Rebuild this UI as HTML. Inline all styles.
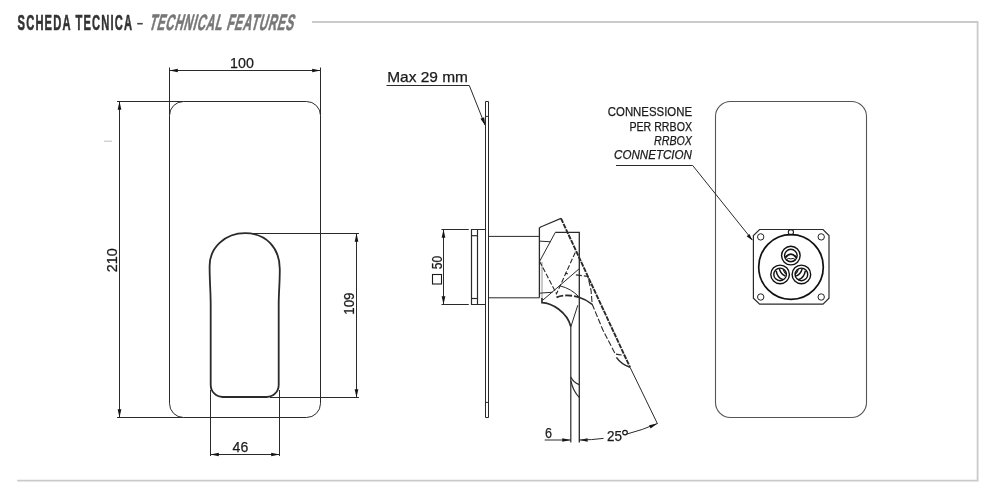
<!DOCTYPE html>
<html><head><meta charset="utf-8"><style>
html,body{margin:0;padding:0;background:#fff;}
body{width:1000px;height:502px;overflow:hidden;font-family:"Liberation Sans",sans-serif;}
svg{display:block;will-change:transform;}
</style></head><body>
<svg width="1000" height="502" viewBox="0 0 1000 502">
<text transform="translate(17.6 29.6) scale(0.49 1)" font-family="Liberation Sans" font-size="22.8" font-weight="bold" fill="#333" stroke="#333" stroke-width="0.6" textLength="233.5" lengthAdjust="spacing">SCHEDA TECNICA</text>
<rect x="137.2" y="22.9" width="5.5" height="1.6" fill="#444"/>
<text transform="translate(148.5 29.5) skewX(-15) scale(0.52 1)" font-family="Liberation Sans" font-size="22.3" font-weight="bold" fill="#777" stroke="#777" stroke-width="0.6" textLength="277.5" lengthAdjust="spacing">TECHNICAL FEATURES</text>
<path d="M312 22 H977.6 V480.6 H17.2" fill="none" stroke="#cacaca" stroke-width="1.8"/>
<path d="M183.5 101.5 H306.5 A14 14 0 0 1 320.5 115.5 V403.5 A14 14 0 0 1 306.5 417.5 H183.5 A14 14 0 0 1 169.5 403.5 V115.5 A14 14 0 0 1 183.5 101.5 Z" fill="none" stroke="#2a2a2a" stroke-width="1"/>
<line x1="117" y1="101.5" x2="183.5" y2="101.5" stroke="#2a2a2a" stroke-width="1"/>
<line x1="117" y1="417.5" x2="183.5" y2="417.5" stroke="#2a2a2a" stroke-width="1"/>
<line x1="169.5" y1="67.5" x2="169.5" y2="115.5" stroke="#2a2a2a" stroke-width="1"/>
<line x1="320.5" y1="67.5" x2="320.5" y2="115.5" stroke="#2a2a2a" stroke-width="1"/>
<line x1="169.5" y1="70.5" x2="320.5" y2="70.5" stroke="#2a2a2a" stroke-width="1"/>
<polygon points="169.50,70.50 177.80,68.65 177.80,72.35" fill="#151515"/>
<polygon points="320.50,70.50 312.20,72.35 312.20,68.65" fill="#151515"/>
<text x="242" y="68" font-family="Liberation Sans" font-size="14.4" fill="#1a1a1a" stroke="#1a1a1a" stroke-width="0.25" text-anchor="middle" font-weight="normal" font-style="normal" textLength="23.8" lengthAdjust="spacingAndGlyphs" >100</text>
<line x1="119.5" y1="101.5" x2="119.5" y2="417.5" stroke="#2a2a2a" stroke-width="1"/>
<polygon points="119.50,101.50 121.35,109.80 117.65,109.80" fill="#151515"/>
<polygon points="119.50,417.50 117.65,409.20 121.35,409.20" fill="#151515"/>
<text x="0" y="0" font-family="Liberation Sans" font-size="14.4" fill="#1a1a1a" stroke="#1a1a1a" stroke-width="0.25" text-anchor="middle" font-weight="normal" font-style="normal" textLength="24" lengthAdjust="spacingAndGlyphs" transform="translate(117.3 260.2) rotate(-90)">210</text>
<path d="M245 233.2 C265.9 233.2 279.8 247.6 279.8 269.2 C279.8 284 278.7 292 278.7 305 L278.7 385 A12 12 0 0 1 266.7 397 L222.7 397 A12 12 0 0 1 210.7 385 L210.7 305 C210.7 292 209.6 282 209.6 266 C209.6 247.5 225.2 233.2 245 233.2 Z" fill="none" stroke="#2a2a2a" stroke-width="1.8"/>
<line x1="240" y1="233.5" x2="359" y2="233.5" stroke="#2a2a2a" stroke-width="1"/>
<line x1="270" y1="397.5" x2="359" y2="397.5" stroke="#2a2a2a" stroke-width="1"/>
<line x1="356.5" y1="233.5" x2="356.5" y2="397.5" stroke="#2a2a2a" stroke-width="1"/>
<polygon points="356.50,233.50 358.35,241.80 354.65,241.80" fill="#151515"/>
<polygon points="356.50,397.50 354.65,389.20 358.35,389.20" fill="#151515"/>
<text x="0" y="0" font-family="Liberation Sans" font-size="14.4" fill="#1a1a1a" stroke="#1a1a1a" stroke-width="0.25" text-anchor="middle" font-weight="normal" font-style="normal" textLength="22.2" lengthAdjust="spacingAndGlyphs" transform="translate(353.9 303.6) rotate(-90)">109</text>
<line x1="210.5" y1="390" x2="210.5" y2="456" stroke="#2a2a2a" stroke-width="1"/>
<line x1="279.5" y1="390" x2="279.5" y2="456" stroke="#2a2a2a" stroke-width="1"/>
<line x1="210.5" y1="454.5" x2="279.5" y2="454.5" stroke="#2a2a2a" stroke-width="1"/>
<polygon points="210.50,454.50 218.80,452.65 218.80,456.35" fill="#151515"/>
<polygon points="279.50,454.50 271.20,456.35 271.20,452.65" fill="#151515"/>
<text x="240.4" y="452.3" font-family="Liberation Sans" font-size="14.4" fill="#1a1a1a" stroke="#1a1a1a" stroke-width="0.25" text-anchor="middle" font-weight="normal" font-style="normal" textLength="15.6" lengthAdjust="spacingAndGlyphs" >46</text>
<rect x="104" y="140.6" width="8" height="1.3" fill="#ccc"/>
<text x="387.2" y="81.9" font-family="Liberation Sans" font-size="14.8" fill="#1a1a1a" stroke="#1a1a1a" stroke-width="0.25" text-anchor="start" font-weight="normal" font-style="normal" textLength="80.8" lengthAdjust="spacingAndGlyphs" >Max 29 mm</text>
<path d="M386.5 85.5 H469.3 L485 125" fill="none" stroke="#2a2a2a" stroke-width="1"/>
<polygon points="485.30,125.40 480.47,118.72 484.18,117.23" fill="#151515"/>
<path d="M485.5 101.5 H488.5 V417.5 H485.5 Z" fill="none" stroke="#2a2a2a" stroke-width="1"/>
<line x1="485.5" y1="116.4" x2="488.5" y2="116.4" stroke="#2a2a2a" stroke-width="1"/>
<line x1="485.5" y1="402.4" x2="488.5" y2="402.4" stroke="#2a2a2a" stroke-width="1"/>
<path d="M485.5 229.5 H471.5 V304.5 H485.5" fill="none" stroke="#2a2a2a" stroke-width="1.2"/>
<line x1="477.5" y1="229.5" x2="477.5" y2="304.5" stroke="#2a2a2a" stroke-width="1.2"/>
<line x1="471.5" y1="235.7" x2="477.5" y2="235.7" stroke="#2a2a2a" stroke-width="1.2"/>
<line x1="471.5" y1="298.5" x2="477.5" y2="298.5" stroke="#2a2a2a" stroke-width="1.2"/>
<line x1="441.5" y1="229.5" x2="468.8" y2="229.5" stroke="#2a2a2a" stroke-width="1"/>
<line x1="441.5" y1="304.5" x2="468.8" y2="304.5" stroke="#2a2a2a" stroke-width="1"/>
<line x1="443.5" y1="229.5" x2="443.5" y2="304.5" stroke="#2a2a2a" stroke-width="1"/>
<polygon points="443.50,229.50 445.35,237.80 441.65,237.80" fill="#151515"/>
<polygon points="443.50,304.50 441.65,296.20 445.35,296.20" fill="#151515"/>
<text x="0" y="0" font-family="Liberation Sans" font-size="14.4" fill="#1a1a1a" stroke="#1a1a1a" stroke-width="0.25" text-anchor="start" font-weight="normal" font-style="normal" textLength="13.4" lengthAdjust="spacingAndGlyphs" transform="translate(442.4 269.3) rotate(-90)">50</text>
<rect x="432.5" y="274.5" width="9" height="9.5" fill="none" stroke="#1a1a1a" stroke-width="1.1"/>
<line x1="488.5" y1="236.4" x2="539.5" y2="236.4" stroke="#2a2a2a" stroke-width="1"/>
<line x1="488.5" y1="297.8" x2="539.5" y2="297.8" stroke="#2a2a2a" stroke-width="1"/>
<line x1="539.4" y1="227.5" x2="539.4" y2="297.7" stroke="#2a2a2a" stroke-width="1.3"/>
<line x1="542" y1="262" x2="542" y2="298" stroke="#888" stroke-width="0.9"/>
<path d="M539.4 227.8 Q541 226.6 543 226 L561 218.4" fill="none" stroke="#2a2a2a" stroke-width="1.2"/>
<path d="M555.3 232.4 H579.3 V442.5" fill="none" stroke="#2a2a2a" stroke-width="1.3"/>
<line x1="570.8" y1="326.7" x2="570.8" y2="442.5" stroke="#2a2a2a" stroke-width="1.2"/>
<path d="M542 298 V302.6 C552 303 567 312 570.9 326.7" fill="none" stroke="#2a2a2a" stroke-width="1.7"/>
<path d="M555.3 232.4 L539.6 261.4" fill="none" stroke="#2a2a2a" stroke-width="1"/>
<line x1="539.4" y1="241.1" x2="550.8" y2="241.8" stroke="#2a2a2a" stroke-width="1"/>
<line x1="539.4" y1="293.2" x2="552.5" y2="292.2" stroke="#2a2a2a" stroke-width="1"/>
<path d="M543 300 L578.9 269" fill="none" stroke="#2a2a2a" stroke-width="1"/>
<path d="M570.9 326.7 L577.8 305.2" fill="none" stroke="#2a2a2a" stroke-width="1"/>
<path d="M560 285.9 Q571 288.5 578.9 296.8" fill="none" stroke="#2a2a2a" stroke-width="1"/>
<path d="M570.8 377 Q573 382 579.2 384.6" fill="none" stroke="#2a2a2a" stroke-width="1.2"/>
<path d="M570.8 380.6 Q573 391 579.2 397.3" fill="none" stroke="#2a2a2a" stroke-width="1.2"/>
<path d="M561 218.4 L630 367.2" fill="none" stroke="#2a2a2a" stroke-width="1.9" stroke-dasharray="5 1"/>
<path d="M539.6 261.4 L556.5 293.8 L576 250.8" fill="none" stroke="#2a2a2a" stroke-width="1.1" stroke-dasharray="5 2"/>
<path d="M565 273.4 L568 273.7 M575.9 274.9 L587.8 276.4 L591 290 L592.2 304.3 L602.9 330 L615.3 354 Q619 354.6 624.6 355.6" fill="none" stroke="#2a2a2a" stroke-width="1.1" stroke-dasharray="6 2"/>
<path d="M616.4 357.3 Q621 364 630 367.2" fill="none" stroke="#2a2a2a" stroke-width="1.5"/>
<path d="M556.5 297.3 Q566 293.5 578.9 297.3" fill="none" stroke="#2a2a2a" stroke-width="1.9" stroke-dasharray="7 2"/>
<path d="M578.9 297.3 Q586 299.5 592.2 304.3" fill="none" stroke="#2a2a2a" stroke-width="1.6"/>
<line x1="630" y1="367.2" x2="657.4" y2="423.6" stroke="#2a2a2a" stroke-width="1"/>
<line x1="544.7" y1="440" x2="570.6" y2="440" stroke="#2a2a2a" stroke-width="1"/>
<polygon points="570.60,440.00 562.30,441.85 562.30,438.15" fill="#151515"/>
<polygon points="579.30,440.00 587.60,438.15 587.60,441.85" fill="#151515"/>
<path d="M579.3 440 A194 194 0 0 0 603.5 438.4" fill="none" stroke="#2a2a2a" stroke-width="1"/>
<text x="548.5" y="438.3" font-family="Liberation Sans" font-size="14.4" fill="#1a1a1a" stroke="#1a1a1a" stroke-width="0.25" text-anchor="middle" font-weight="normal" font-style="normal" textLength="7" lengthAdjust="spacingAndGlyphs" >6</text>
<text x="607" y="440.9" font-family="Liberation Sans" font-size="14.8" fill="#1a1a1a" stroke="#1a1a1a" stroke-width="0.25" text-anchor="start" font-weight="normal" font-style="normal" textLength="15.0" lengthAdjust="spacingAndGlyphs" >25</text>
<circle cx="625" cy="432.6" r="2.3" fill="none" stroke="#1a1a1a" stroke-width="1.15"/>
<path d="M626.6 434.1 A194 194 0 0 0 657.4 423.5" fill="none" stroke="#2a2a2a" stroke-width="1"/>
<polygon points="657.40,423.50 650.59,428.59 649.07,425.21" fill="#151515"/>
<path d="M730.5 101.5 H851.5 A15 15 0 0 1 866.5 116.5 V402.5 A15 15 0 0 1 851.5 417.5 H730.5 A15 15 0 0 1 715.5 402.5 V116.5 A15 15 0 0 1 730.5 101.5 Z" fill="none" stroke="#555" stroke-width="1.1"/>
<text x="692" y="116" font-family="Liberation Sans" font-size="12.3" fill="#1a1a1a" stroke="#1a1a1a" stroke-width="0.25" text-anchor="end" font-weight="normal" font-style="normal" textLength="84.2" lengthAdjust="spacingAndGlyphs" >CONNESSIONE</text>
<text x="692" y="130.5" font-family="Liberation Sans" font-size="12.3" fill="#1a1a1a" stroke="#1a1a1a" stroke-width="0.25" text-anchor="end" font-weight="normal" font-style="normal" textLength="62.6" lengthAdjust="spacingAndGlyphs" >PER RRBOX</text>
<text x="692" y="144.7" font-family="Liberation Sans" font-size="12.3" fill="#1a1a1a" stroke="#1a1a1a" stroke-width="0.25" text-anchor="end" font-weight="normal" font-style="italic" textLength="38" lengthAdjust="spacingAndGlyphs" >RRBOX</text>
<text x="692" y="159" font-family="Liberation Sans" font-size="12.3" fill="#1a1a1a" stroke="#1a1a1a" stroke-width="0.25" text-anchor="end" font-weight="normal" font-style="italic" textLength="78" lengthAdjust="spacingAndGlyphs" >CONNETCION</text>
<path d="M616 165.5 H692.7 L752.4 240" fill="none" stroke="#2a2a2a" stroke-width="1"/>
<polygon points="752.40,240.50 746.63,236.14 749.45,233.90" fill="#151515"/>
<path d="M759.6 229.5 H823 L829 235.5 V298.2 L823 304.2 H759.6 L753.4 298.2 V235.5 Z" fill="none" stroke="#2a2a2a" stroke-width="1.2"/>
<circle cx="760.7" cy="236.9" r="3.2" fill="none" stroke="#222" stroke-width="1"/>
<circle cx="821.2" cy="236.9" r="3.2" fill="none" stroke="#222" stroke-width="1"/>
<circle cx="760.7" cy="297" r="3.2" fill="none" stroke="#222" stroke-width="1"/>
<circle cx="821.2" cy="297" r="3.2" fill="none" stroke="#222" stroke-width="1"/>
<circle cx="790.9" cy="232.2" r="2.6" fill="none" stroke="#222" stroke-width="1.1"/>
<circle cx="791" cy="267" r="32.3" fill="none" stroke="#111" stroke-width="1.7"/>
<circle cx="790.85" cy="255.6" r="9.3" fill="none" stroke="#111" stroke-width="1.4"/>
<circle cx="790.85" cy="255.6" r="6.3" fill="none" stroke="#111" stroke-width="1.4"/>
<circle cx="780.1" cy="274.4" r="9.3" fill="none" stroke="#111" stroke-width="1.4"/>
<circle cx="780.1" cy="274.4" r="6.3" fill="none" stroke="#111" stroke-width="1.4"/>
<circle cx="801.4" cy="274.4" r="9.3" fill="none" stroke="#111" stroke-width="1.4"/>
<circle cx="801.4" cy="274.4" r="6.3" fill="none" stroke="#111" stroke-width="1.4"/>
<path d="M785.3 257.6 Q790.85 250.6 796.4 257.6" fill="none" stroke="#111" stroke-width="1.9"/>
<path d="M786.3 259.6 Q788.6 257.6 790.85 258.9 Q793.1 257.6 795.4 259.6 Q790.85 263.2 786.3 259.6 Z" fill="none" stroke="#111" stroke-width="1.0"/>
<path d="M776.2 270.8 Q777.3 277.8 783.2 279.8" fill="none" stroke="#111" stroke-width="1.5"/>
<path d="M779.3 268.8 Q780.8 274.2 785.3 276" fill="none" stroke="#111" stroke-width="1.4"/>
<path d="M783.2 269.6 Q784.2 272.8 786.6 274.4" fill="none" stroke="#111" stroke-width="1.1"/>
<path d="M805.3 270.8 Q804.2 277.8 798.3 279.8" fill="none" stroke="#111" stroke-width="1.5"/>
<path d="M802.2 268.8 Q800.7 274.2 796.2 276" fill="none" stroke="#111" stroke-width="1.4"/>
<path d="M798.3 269.6 Q797.3 272.8 794.9 274.4" fill="none" stroke="#111" stroke-width="1.1"/>
</svg>
</body></html>
